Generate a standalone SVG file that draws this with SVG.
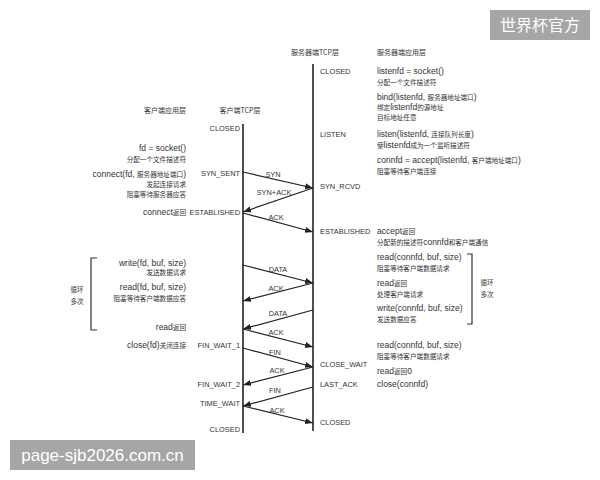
<svg xmlns="http://www.w3.org/2000/svg" width="600" height="480" viewBox="0 0 600 480">
<style>
.t{font-family:"Liberation Sans","Noto Sans CJK SC",sans-serif;font-size:8.5px;fill:#333}
.z{font-family:"Noto Sans CJK SC",sans-serif;font-size:6.6px;fill:#333}
.c{font-family:"Noto Sans CJK SC",sans-serif;font-size:6.6px}
.s{font-family:"Liberation Sans",sans-serif;font-size:7.4px;fill:#333}
.h{font-family:"Noto Sans CJK SC",sans-serif;font-size:7px;fill:#333}
.e{text-anchor:end}
.m{text-anchor:middle}
.life{stroke:#222;stroke-width:1.6}
.msg{stroke:#222;stroke-width:1.2;fill:none;marker-end:url(#ah)}
.br{stroke:#333;stroke-width:1.2;fill:none}
.wm{fill:#a6a6a6}
.wt{font-family:"Liberation Sans","Noto Sans CJK SC",sans-serif;fill:#fff}
</style>
<defs>
<marker id="ah" markerUnits="userSpaceOnUse" markerWidth="9" markerHeight="7" refX="8" refY="3" orient="auto">
<path d="M0,0 L8,3 L0,6 z" fill="#222"/>
</marker>
</defs>
<rect width="600" height="480" fill="#fff"/>

<g id="headers">
<text class="h m" x="315" y="55">服务器端TCP层</text>
<text class="h" x="377" y="55">服务器端应用层</text>
<text class="h m" x="165" y="113">客户端应用层</text>
<text class="h m" x="240" y="113">客户端TCP层</text>
</g>

<g id="client-tcp">
<line class="life" x1="243" y1="124" x2="243" y2="433"/>
<text class="s e" x="240" y="131">CLOSED</text>
<text class="s e" x="240" y="176">SYN_SENT</text>
<text class="s e" x="240" y="215">ESTABLISHED</text>
<text class="s e" x="240" y="348">FIN_WAIT_1</text>
<text class="s e" x="240" y="387">FIN_WAIT_2</text>
<text class="s e" x="240" y="406">TIME_WAIT</text>
<text class="s e" x="240" y="432">CLOSED</text>
</g>

<g id="server-tcp">
<line class="life" x1="313" y1="64" x2="313" y2="431"/>
<text class="s" x="320" y="74">CLOSED</text>
<text class="s" x="320" y="137">LISTEN</text>
<text class="s" x="320" y="189">SYN_RCVD</text>
<text class="s" x="320" y="234">ESTABLISHED</text>
<text class="s" x="320" y="367">CLOSE_WAIT</text>
<text class="s" x="320" y="387">LAST_ACK</text>
<text class="s" x="320" y="425">CLOSED</text>
</g>

<g id="client-app">
<text class="t e" x="186" y="151">fd = socket()</text>
<text class="z e" x="186" y="161.5">分配一个文件描述符</text>
<text class="t e" x="186" y="177">connect(fd, <tspan class="c">服务器地址端口</tspan>)</text>
<text class="z e" x="186" y="186.5">发起连接请求</text>
<text class="z e" x="186" y="196.5">阻塞等待服务器应答</text>
<text class="t e" x="186" y="215">connect<tspan class="c">返回</tspan></text>
<text class="t e" x="186" y="266">write(fd, buf, size)</text>
<text class="z e" x="186" y="274.5">发送数据请求</text>
<text class="t e" x="186" y="290">read(fd, buf, size)</text>
<text class="z e" x="186" y="300.5">阻塞等待客户端数据应答</text>
<text class="t e" x="186" y="330">read<tspan class="c">返回</tspan></text>
<text class="t e" x="186" y="348">close(fd)<tspan class="c">关闭连接</tspan></text>
</g>

<g id="client-loop">
<path class="br" d="M97,258 H91 V330 H97"/>
<text class="z m" x="77" y="291.5">循环</text>
<text class="z m" x="77" y="303.5">多次</text>
</g>

<g id="server-app">
<text class="t" x="377" y="74">listenfd = socket()</text>
<text class="z" x="377" y="84.5">分配一个文件描述符</text>
<text class="t" x="377" y="100">bind(listenfd, <tspan class="c">服务器地址端口</tspan>)</text>
<text class="t" x="377" y="109.5"><tspan class="c">绑定</tspan>listenfd<tspan class="c">的源地址</tspan></text>
<text class="z" x="377" y="119.5">目标地址任意</text>
<text class="t" x="377" y="137">listen(listenfd, <tspan class="c">连接队列长度</tspan>)</text>
<text class="t" x="377" y="147.5"><tspan class="c">使</tspan>listenfd<tspan class="c">成为一个监听描述符</tspan></text>
<text class="t" x="377" y="163">connfd = accept(listenfd, <tspan class="c">客户端地址端口</tspan>)</text>
<text class="z" x="377" y="173.5">阻塞等待客户端连接</text>
<text class="t" x="377" y="234">accept<tspan class="c">返回</tspan></text>
<text class="t" x="377" y="244.5"><tspan class="c">分配新的描述符</tspan>connfd<tspan class="c">和客户端通信</tspan></text>
<text class="t" x="377" y="260">read(connfd, buf, size)</text>
<text class="z" x="377" y="270.5">阻塞等待客户端数据请求</text>
<text class="t" x="377" y="286">read<tspan class="c">返回</tspan></text>
<text class="z" x="377" y="296.5">处理客户端请求</text>
<text class="t" x="377" y="311">write(connfd, buf, size)</text>
<text class="z" x="377" y="321.5">发送数据应答</text>
<text class="t" x="377" y="348">read(connfd, buf, size)</text>
<text class="z" x="377" y="358.5">阻塞等待客户端数据请求</text>
<text class="t" x="377" y="374">read<tspan class="c">返回</tspan>0</text>
<text class="t" x="377" y="387">close(connfd)</text>
</g>

<g id="server-loop">
<path class="br" d="M467,254 H472 V324 H467"/>
<text class="z m" x="487" y="284.5">循环</text>
<text class="z m" x="487" y="296.5">多次</text>
</g>

<g id="connectors">
<line class="msg" x1="243" y1="172" x2="313" y2="188"/>
<text class="s m" x="273" y="177">SYN</text>
<line class="msg" x1="313" y1="188" x2="243" y2="212"/>
<text class="s m" x="274" y="195">SYN+ACK</text>
<line class="msg" x1="243" y1="213" x2="313" y2="232"/>
<text class="s m" x="276" y="220">ACK</text>
<line class="msg" x1="243" y1="265" x2="313" y2="283"/>
<text class="s m" x="278" y="272">DATA</text>
<line class="msg" x1="313" y1="283" x2="243" y2="301"/>
<text class="s m" x="276" y="291">ACK</text>
<line class="msg" x1="313" y1="310" x2="243" y2="329"/>
<text class="s m" x="278" y="316">DATA</text>
<line class="msg" x1="243" y1="329" x2="313" y2="347"/>
<text class="s m" x="276" y="335">ACK</text>
<line class="msg" x1="243" y1="348" x2="313" y2="367"/>
<text class="s m" x="275" y="355">FIN</text>
<line class="msg" x1="313" y1="367" x2="243" y2="385"/>
<text class="s m" x="277" y="373">ACK</text>
<line class="msg" x1="313" y1="387" x2="243" y2="406"/>
<text class="s m" x="275" y="393">FIN</text>
<line class="msg" x1="243" y1="406" x2="313" y2="423"/>
<text class="s m" x="277" y="413">ACK</text>
</g>

<g id="watermark-top">
<rect class="wm" x="490" y="10" width="100" height="30"/>
<text class="wt m" x="540" y="31" font-size="16">世界杯官方</text>
</g>
<g id="watermark-bottom">
<rect class="wm" x="10" y="440" width="185" height="30"/>
<text class="wt m" x="102.5" y="461" font-size="17">page-sjb2026.com.cn</text>
</g>
</svg>
